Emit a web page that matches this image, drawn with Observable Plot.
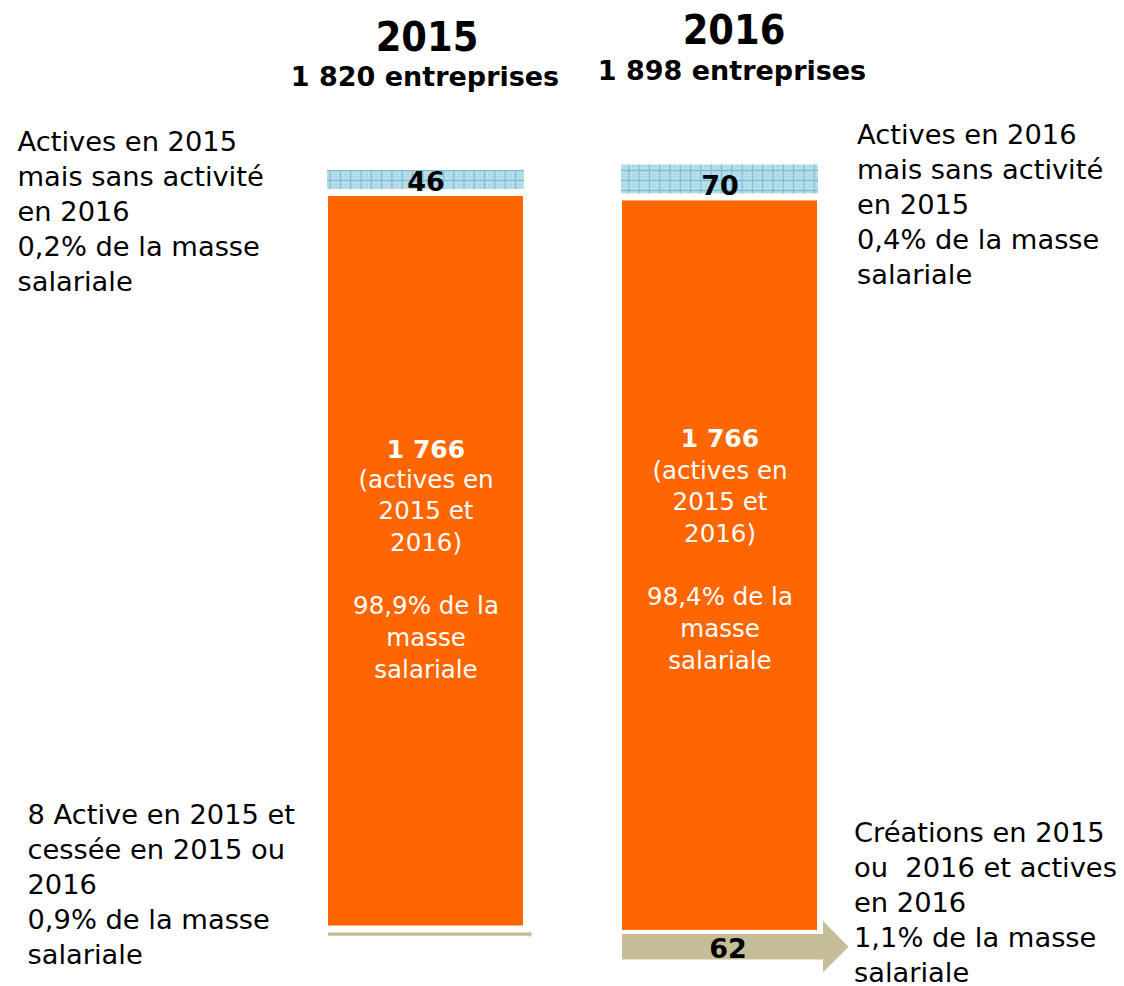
<!DOCTYPE html>
<html lang="fr">
<head>
<meta charset="utf-8">
<script src="https://cdn.jsdelivr.net/npm/d3@7"></script>
<script src="https://cdn.jsdelivr.net/npm/@observablehq/plot@0.6"></script>
<style>
  html, body { margin: 0; padding: 0; background: #ffffff; }
  #chart svg { display: block; }
</style>
</head>
<body>
<div id="chart"></div>
<script>
// ---------- DATA ----------
const years = ["2015", "2016"];
const totalEntreprises = ["1 820", "1 898"];
const sansActivite = [46, 70];          // segment haut (hachuré bleu)
const activesDeuxAns = [1766, 1766];    // segment orange
const flux = [8, 62];                   // flèches du bas (cessations / créations)
const partSansActivite = ["0,2%", "0,4%"];
const partActives = ["98,9%", "98,4%"];
const partFlux = ["0,9%", "1,1%"];
const libSansActivite = ["Actives en 2015\nmais sans activité\nen 2016", "Actives en 2016\nmais sans activité\nen 2015"];
const libFlux = [`${flux[0]} Active en 2015 et\ncessée en 2015 ou\n2016`, "Créations en 2015\nou \u00a02016 et actives\nen 2016"];
const libActives = "(actives en\n2015 et\n2016)";

// ---------- LAYOUT (pixels, converted to data units) ----------
const K = 729.5 / 1766;            // pixels per entreprise
const W = 1124, H = 986;
const u = px => px / K;            // pixel position -> y units
const layout = {
  top: [170, 164.5],
  gapTop: 7,
  gapBottom: [7, 4],
  titleBase: [50, 43],
  titleDx: [1, 14],
  subBase: [85, 79],
  subDx: [-1, 12],
  boldBase: [457, 446],
  blockBase: [677, 668],
  sideTopBase: [290, 283],
  sideBotBase: [963, 981]
};

const rows = years.map((year, i) => {
  const t0 = u(layout.top[i]);
  const t1 = t0 + sansActivite[i];
  const o0 = t1 + u(layout.gapTop);
  const o1 = o0 + activesDeuxAns[i];
  const a0 = o1 + u(layout.gapBottom[i]);
  const a1 = a0 + flux[i];
  return {year, i, t0, t1, o0, o1, a0, a1};
});

const ORANGE = "#FF6600", TAN = "#C4BD97";
const FONT = "'DejaVu Sans', Verdana, sans-serif";
const SIDE = 27.3;

// pattern defs (custom mark)
const defs = () => {
  const g = d3.create("svg:g");
  const p = g.append("defs").append("pattern")
    .attr("id", "grille").attr("patternUnits", "userSpaceOnUse")
    .attr("width", 10.3).attr("height", 10);
  p.append("rect").attr("width", 10.3).attr("height", 10).attr("fill", "#ADD9E6");
  for (const [x, y] of [[2.5, 2.5], [7.7, 2.5], [2.5, 7.5], [7.7, 7.5], [5.1, 2.5], [5.1, 7.5], [2.5, 5], [7.7, 5]])
    p.append("rect").attr("x", x).attr("y", y).attr("width", 1).attr("height", 1).attr("fill", "#e4f3f8");
  p.append("rect").attr("x", 0).attr("y", 0).attr("width", 1).attr("height", 10).attr("fill", "#78BCD1");
  p.append("rect").attr("x", 0).attr("y", 0).attr("width", 10.3).attr("height", 1).attr("fill", "#78BCD1");
  return g.node();
};

// arrows (custom mark using Plot's scales)
const arrows = (index, scales) => {
  const {x, y} = scales;
  const bw = typeof x.bandwidth === "function" ? x.bandwidth() : x.bandwidth;
  const g = d3.create("svg:g");
  for (const r of rows) {
    const x0 = x(r.year), x1 = x0 + bw + 6;
    const ya = y(r.a0), yb = y(r.a1), t = yb - ya, ym = (ya + yb) / 2;
    const tip = x1 + t;
    g.append("path")
      .attr("d", `M${x0},${ya}L${x1},${ya}L${x1},${ym - t}L${tip},${ym}L${x1},${ym + t}L${x1},${yb}L${x0},${yb}Z`)
      .attr("fill", TAN);
  }
  return g.node();
};

const titleFont = "'DejaVu Sans Condensed', 'DejaVu Sans', sans-serif";

const chart = Plot.plot({
  width: W,
  height: H,
  margin: 0,
  style: {fontFamily: FONT, background: "#ffffff", overflow: "visible"},
  x: {type: "band", domain: years, range: [228, 917], padding: 0.3356, axis: null},
  y: {domain: [0, u(H)], range: [0, H], axis: null},
  marks: [
    defs,
    Plot.barY(rows, {x: "year", y1: "t0", y2: "t1", fill: "url(#grille)", insetLeft: -1, insetRight: -1}),
    Plot.barY(rows, {x: "year", y1: "o0", y2: "o1", fill: ORANGE}),
    arrows,
    // numbers in the top segments
    Plot.text(rows, {x: "year", y: "t1", text: r => String(sansActivite[r.i]), lineAnchor: "bottom", dy: 1,
      fontSize: 27, fontWeight: "bold", fill: "#000"}),
    // number in the creation arrow
    Plot.text(rows.filter(r => flux[r.i] > 20), {x: "year", y: "a1", text: r => String(flux[r.i]), lineAnchor: "bottom", dy: -2, dx: 8,
      fontSize: 27, fontWeight: "bold", fill: "#000"}),
    // inner white text
    Plot.text(rows, {x: "year", y: r => u(layout.boldBase[r.i]), text: r => d3.format(",")(activesDeuxAns[r.i]).replace(",", " "),
      lineAnchor: "bottom", fontSize: 25, fontWeight: "bold", fill: "#fff"}),
    Plot.text(rows, {x: "year", y: r => u(layout.blockBase[r.i]),
      text: r => `${libActives}\n\n${partActives[r.i]} de la\nmasse\nsalariale`,
      lineAnchor: "bottom", lineHeight: 1.29, fontSize: 24.5, fill: "#fff"}),
    // titles
    Plot.text(rows.filter(r => r.i === 0), {x: "year", y: r => u(layout.titleBase[r.i]), text: "year", lineAnchor: "bottom",
      dx: layout.titleDx[0], fontSize: 41, fontWeight: "bold", fontFamily: titleFont, fill: "#000"}),
    Plot.text(rows.filter(r => r.i === 1), {x: "year", y: r => u(layout.titleBase[r.i]), text: "year", lineAnchor: "bottom",
      dx: layout.titleDx[1], fontSize: 41, fontWeight: "bold", fontFamily: titleFont, fill: "#000"}),
    Plot.text(rows.filter(r => r.i === 0), {x: "year", y: r => u(layout.subBase[r.i]), text: r => `${totalEntreprises[r.i]} entreprises`,
      lineAnchor: "bottom", dx: layout.subDx[0], fontSize: 27, fontWeight: "bold", fill: "#000"}),
    Plot.text(rows.filter(r => r.i === 1), {x: "year", y: r => u(layout.subBase[r.i]), text: r => `${totalEntreprises[r.i]} entreprises`,
      lineAnchor: "bottom", dx: layout.subDx[1], fontSize: 27, fontWeight: "bold", fill: "#000"}),
    // side labels, left (2015)
    Plot.text([rows[0]], {frameAnchor: "left", y: r => u(layout.sideTopBase[0]), dx: 17, textAnchor: "start",
      text: r => `${libSansActivite[0]}\n${partSansActivite[0]} de la masse\nsalariale`,
      lineAnchor: "bottom", lineHeight: 35 / SIDE, fontSize: SIDE, fill: "#000"}),
    Plot.text([rows[0]], {frameAnchor: "left", y: r => u(layout.sideBotBase[0]), dx: 27, textAnchor: "start",
      text: r => `${libFlux[0]}\n${partFlux[0]} de la masse\nsalariale`,
      lineAnchor: "bottom", lineHeight: 35 / SIDE, fontSize: SIDE, fill: "#000"}),
    // side labels, right (2016)
    Plot.text([rows[1]], {x: "year", y: r => u(layout.sideTopBase[1]), dx: 137, textAnchor: "start",
      text: r => `${libSansActivite[1]}\n${partSansActivite[1]} de la masse\nsalariale`,
      lineAnchor: "bottom", lineHeight: 35 / SIDE, fontSize: SIDE, fill: "#000"}),
    Plot.text([rows[1]], {x: "year", y: r => u(layout.sideBotBase[1]), dx: 134, textAnchor: "start",
      text: r => `${libFlux[1]}\n${partFlux[1]} de la masse\nsalariale`,
      lineAnchor: "bottom", lineHeight: 35 / SIDE, fontSize: SIDE, fill: "#000"})
  ]
});

document.getElementById("chart").appendChild(chart);
</script>
</body>
</html>
